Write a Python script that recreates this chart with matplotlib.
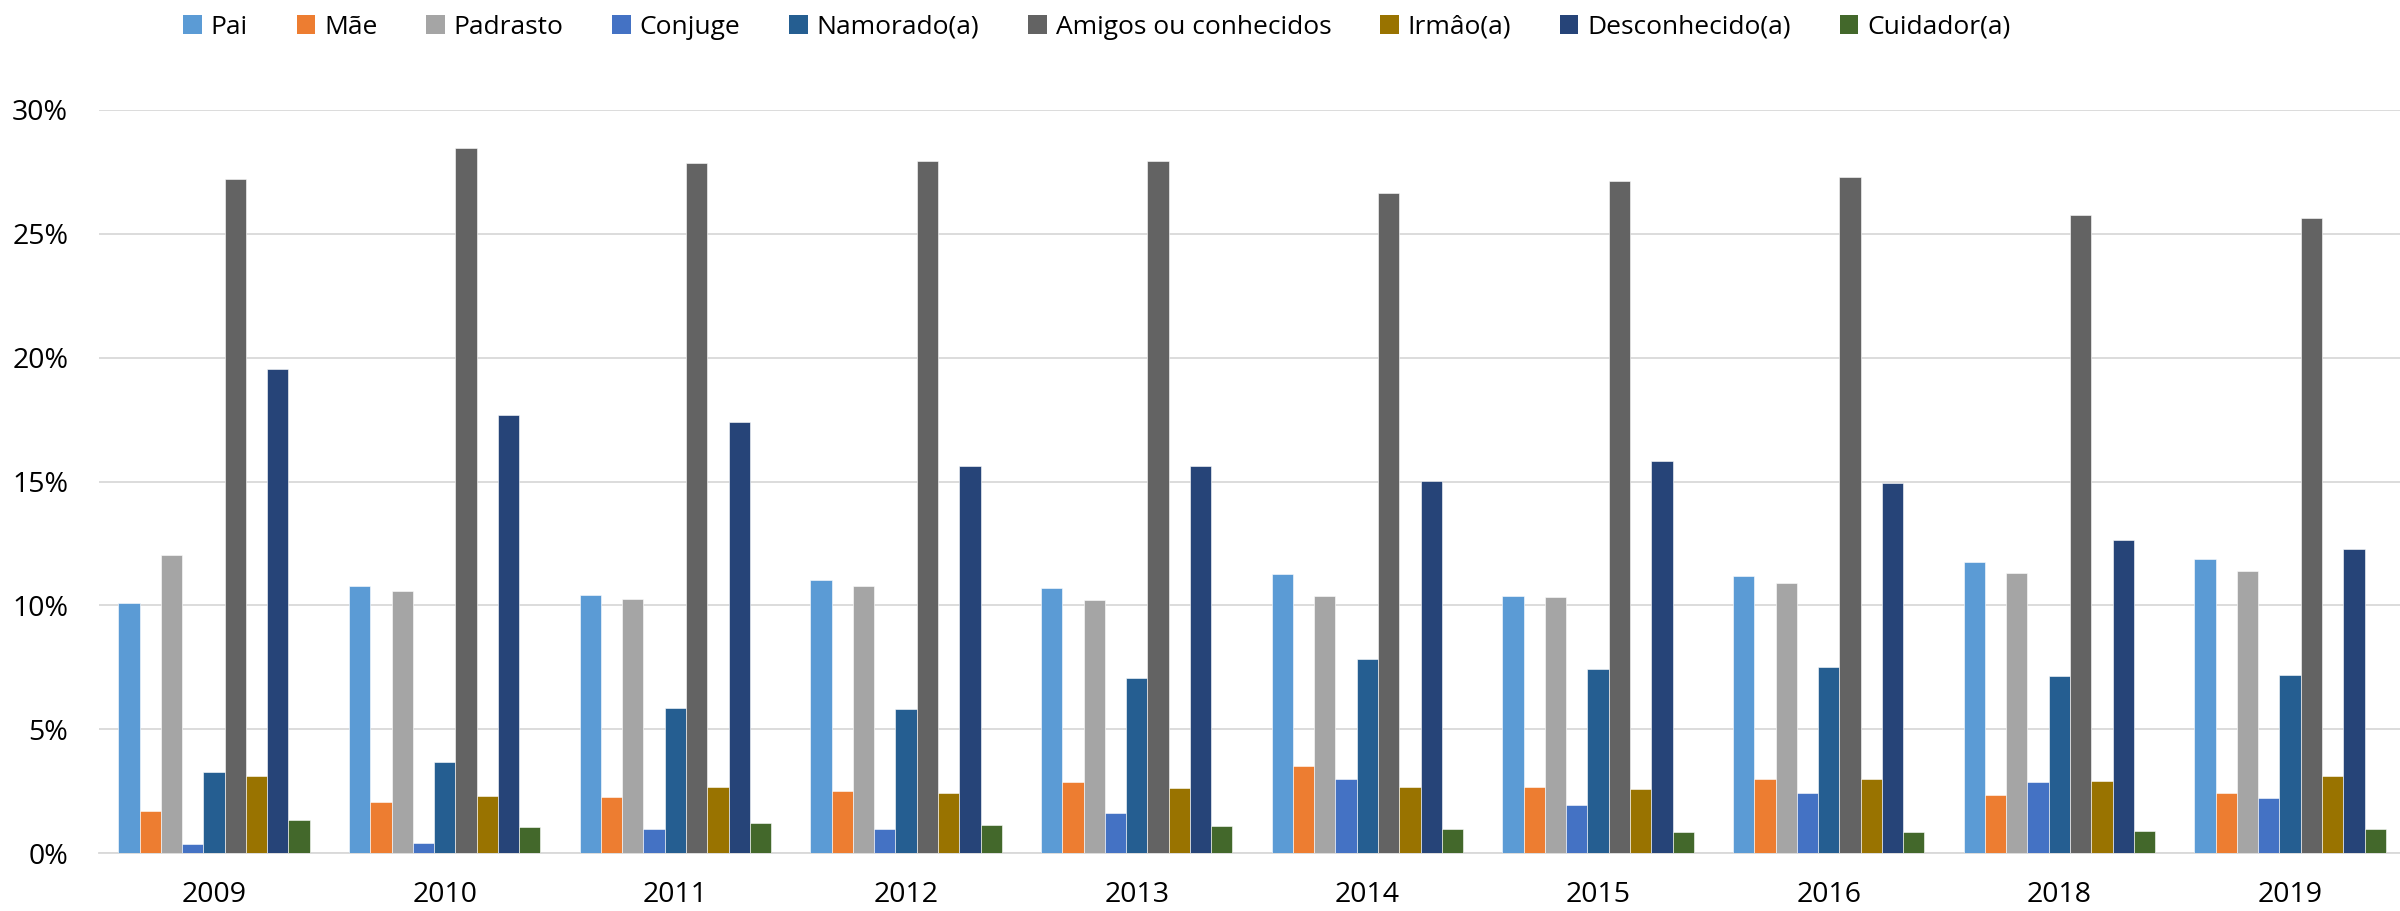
import matplotlib
matplotlib.use("Agg")
import matplotlib.pyplot as plt
import numpy as np
from matplotlib.patches import Patch
from matplotlib.ticker import PercentFormatter

plt.rcParams['font.family'] = ['Open Sans', 'DejaVu Sans']

# --- data (percent) ---
years = ["2009", "2010", "2011", "2012", "2013", "2014", "2015", "2016", "2018", "2019"]

pai          = [10.10, 10.78, 10.41, 11.03, 10.68, 11.26, 10.39, 11.19, 11.75, 11.87]
mae          = [1.71, 2.06, 2.26, 2.49, 2.86, 3.52, 2.67, 2.98, 2.33, 2.41]
padrasto     = [12.04, 10.58, 10.27, 10.78, 10.21, 10.39, 10.33, 10.91, 11.30, 11.40]
conjuge      = [0.37, 0.41, 0.95, 0.95, 1.60, 3.00, 1.93, 2.41, 2.88, 2.22]
namorado     = [3.27, 3.68, 5.86, 5.82, 7.08, 7.84, 7.41, 7.49, 7.16, 7.20]
amigos       = [27.20, 28.48, 27.86, 27.94, 27.94, 26.63, 27.12, 27.30, 25.78, 25.62]
irmao        = [3.09, 2.30, 2.65, 2.43, 2.61, 2.65, 2.59, 2.98, 2.92, 3.09]
desconhecido = [19.55, 17.67, 17.39, 15.64, 15.64, 15.02, 15.82, 14.94, 12.63, 12.28]
cuidador     = [1.32, 1.03, 1.23, 1.15, 1.07, 0.95, 0.86, 0.84, 0.88, 0.97]

series = [pai, mae, padrasto, conjuge, namorado, amigos, irmao, desconhecido, cuidador]
labels = ["Pai", "Mãe", "Padrasto", "Conjuge", "Namorado(a)",
          "Amigos ou conhecidos", "Irmâo(a)", "Desconhecido(a)", "Cuidador(a)"]
colors = ["#5B9BD5", "#ED7D31", "#A5A5A5", "#4472C4", "#255E91",
          "#636363", "#997300", "#264478", "#43682B"]

fig = plt.figure(figsize=(24, 9.11), dpi=100)
# axis runs slightly past the right edge, like the original crop
ax = fig.add_axes([98.7 / 2400, 58 / 911, 2306.7 / 2400, 743 / 911])

x = np.arange(len(years))
n = len(series)
group_w = 0.83
bw = group_w / n

for i, (vals, lab, col) in enumerate(zip(series, labels, colors)):
    offs = -group_w / 2 + bw * (i + 0.5)
    ax.bar(x + offs, vals, width=bw, color=col, label=lab,
           edgecolor="white", linewidth=0.4, zorder=3)

ax.set_xlim(-0.5, len(years) - 0.5)
ax.set_ylim(0, 30)
ax.set_yticks(np.arange(0, 31, 5))
ax.yaxis.set_major_formatter(PercentFormatter(decimals=0))
ax.set_xticks(x)
ax.set_xticklabels(years)

ax.grid(axis="y", color="#D9D9D9", linewidth=1.3, zorder=0)
ax.set_axisbelow(True)
for s in ["top", "right", "left"]:
    ax.spines[s].set_visible(False)
ax.spines["bottom"].set_color("#D9D9D9")
ax.spines["bottom"].set_linewidth(1.3)
ax.tick_params(axis="both", length=0, labelsize=20.5, colors="#000000")
ax.tick_params(axis="y", pad=22)
ax.tick_params(axis="x", pad=20)

handles = [Patch(facecolor=c, edgecolor="none") for c in colors]
fig.legend(handles, labels, loc="center", bbox_to_anchor=(0.457, 0.970),
           ncol=9, frameon=False, fontsize=19, handlelength=0.7,
           handleheight=0.7, handletextpad=0.34, columnspacing=1.85)

fig.savefig("out.png", dpi=100)
